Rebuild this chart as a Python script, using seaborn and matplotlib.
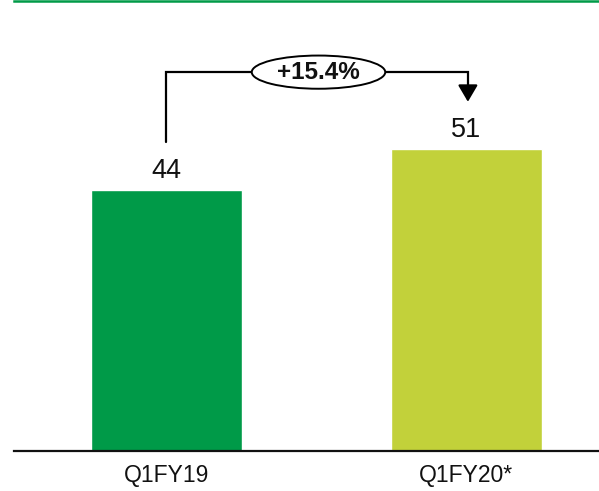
import matplotlib
matplotlib.use("Agg")
import matplotlib.pyplot as plt
from matplotlib.patches import Ellipse
import seaborn as sns
import pandas as pd

periods = ["Q1FY19", "Q1FY20*"]
values = [44, 51]
growth_label = "+15.4%"
bar_colors = ["#009A48", "#C2D13A"]

sns.set_theme(style="white")
plt.rcParams["font.family"] = ["Liberation Sans", "DejaVu Sans"]

df = pd.DataFrame({"period": periods, "value": values})

fig = plt.figure(figsize=(5.99, 4.91), dpi=100)
ax = fig.add_axes([14 / 599, 40 / 491, 585 / 599, 450 / 491])

sns.barplot(data=df, x="period", y="value", hue="period", palette=bar_colors,
            width=0.503, legend=False, ax=ax, saturation=1)

ax.set_xlim(-0.508, 1.442)
ax.set_ylim(0, 75.9)
ax.set_xlabel("")
ax.set_ylabel("")
ax.set_yticks([])
ax.tick_params(axis="x", length=0, pad=9.5, labelsize=16.5, colors="#111111")

for side in ["left", "right"]:
    ax.spines[side].set_visible(False)
ax.spines["bottom"].set_color("#111111")
ax.spines["bottom"].set_linewidth(1.6)
ax.spines["top"].set_color("#009A48")
ax.spines["top"].set_linewidth(1.8)

# value labels above each bar
for i, v in enumerate(values):
    ax.annotate(f"{v}", xy=(i, v), xytext=(0, 8.6), textcoords="offset points",
                ha="center", va="baseline", fontsize=19.5, color="#111111")

# growth bracket from first bar to second bar
top = max(values) + 12.9
left_start = values[0] + 8.1
right_end = values[1] + 7.9
ax.plot([0, 0, 1.005, 1.005], [left_start, top, top, right_end + 2.3],
        color="black", lw=1.6, solid_joinstyle="miter", zorder=3)
ax.annotate("", xy=(1.005, right_end), xytext=(1.005, right_end + 2.6),
            arrowprops=dict(arrowstyle="-|>,head_length=0.85,head_width=0.5",
                            color="black", lw=1.6, shrinkA=0, shrinkB=0), zorder=4)
ax.add_patch(Ellipse((0.507, top), width=0.445, height=5.6, facecolor="white",
                     edgecolor="black", lw=1.4, zorder=5))
ax.text(0.507, top, growth_label, ha="center", va="center", fontsize=17.5,
        fontweight="bold", color="#111111", zorder=6)

fig.savefig("out.png", dpi=100)
